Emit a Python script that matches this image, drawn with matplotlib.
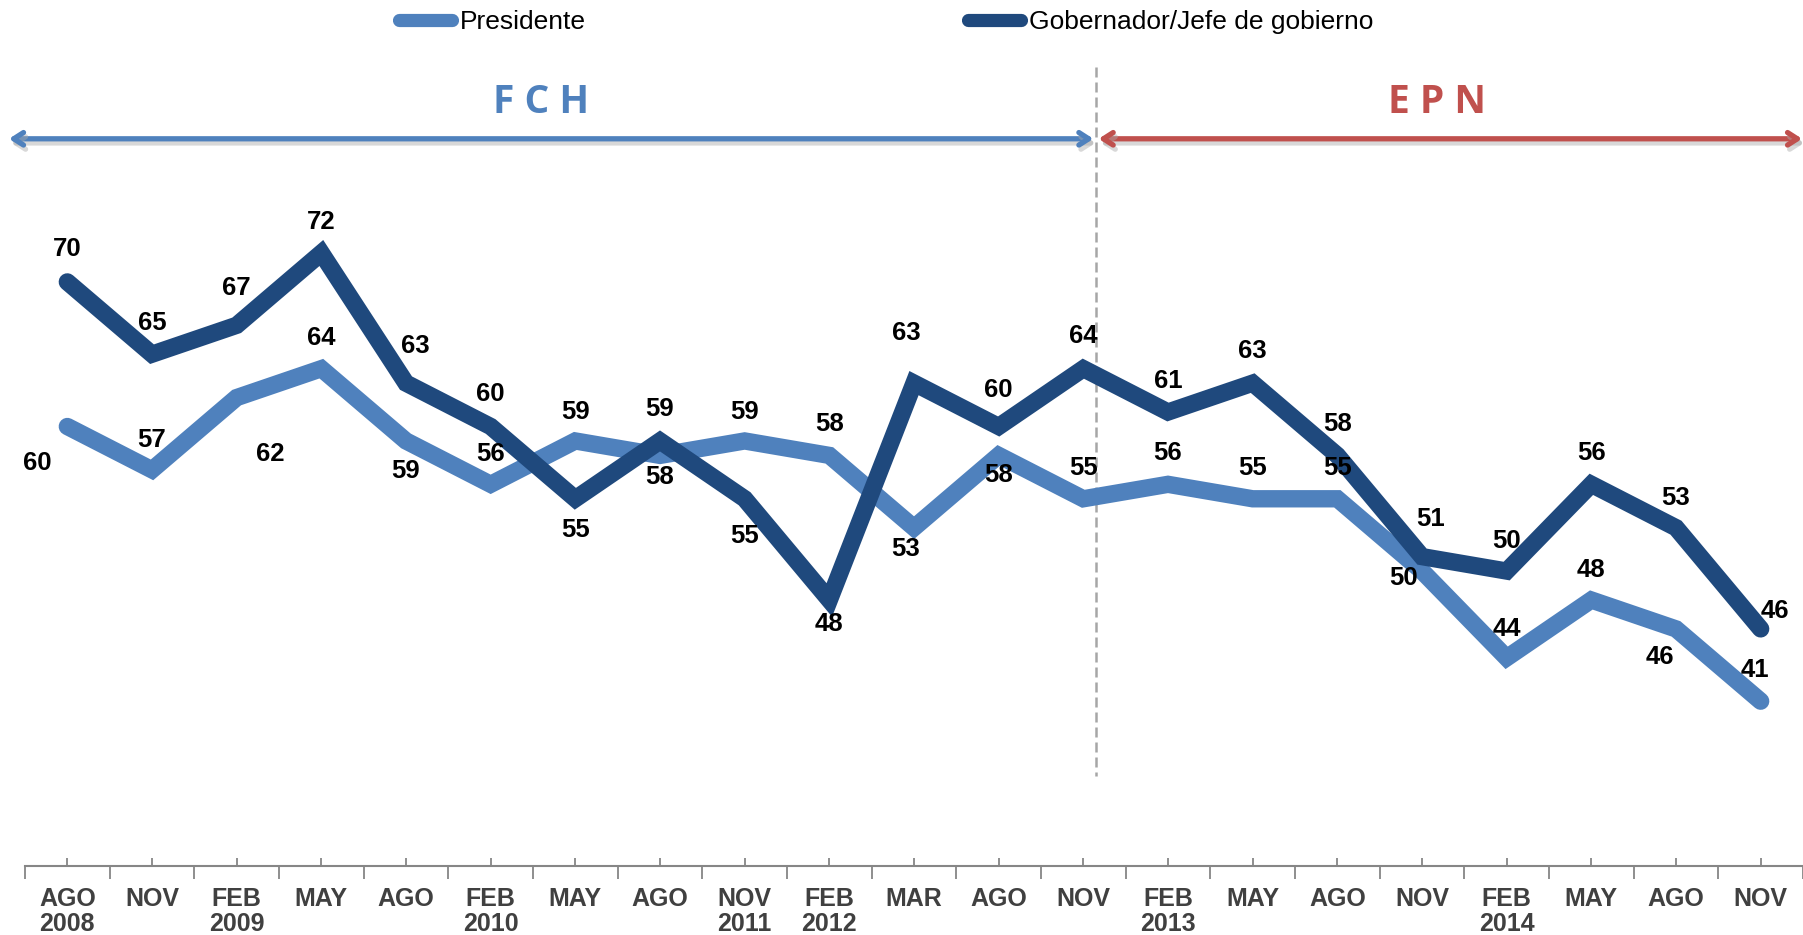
import matplotlib
matplotlib.use("Agg")
import matplotlib.pyplot as plt
import matplotlib.patheffects as pe
from matplotlib.lines import Line2D

months = ["AGO\n2008", "NOV", "FEB\n2009", "MAY", "AGO", "FEB\n2010", "MAY", "AGO",
          "NOV\n2011", "FEB\n2012", "MAR", "AGO", "NOV", "FEB\n2013", "MAY", "AGO",
          "NOV", "FEB\n2014", "MAY", "AGO", "NOV"]
presidente = [60, 57, 62, 64, 59, 56, 59, 58, 59, 58, 53, 58, 55, 56, 55, 55, 50, 44, 48, 46, 41]
gobernador = [70, 65, 67, 72, 63, 60, 55, 59, 55, 48, 63, 60, 64, 61, 63, 58, 51, 50, 56, 53, 46]

# label offsets (pixels) relative to each point
pres_off = [(-30, -37), (0, 30), (34, -56), (0, 31), (0, -30), (0, 30), (0, 29), (0, -22),
            (0, 29), (0, 31), (-8, -21), (0, -20), (0, 31), (0, 31), (0, 31), (0, 31),
            (-18, -7), (0, 29), (0, 30), (-16, -28), (-6, 31)]
gob_off = [(0, 33), (0, 31), (0, 37), (0, 31), (9, 37), (0, 32), (0, -31), (0, 32),
           (0, -37), (0, -24), (-8, 50), (0, 36), (0, 33), (0, 31), (0, 32), (0, 31),
           (9, 38), (0, 30), (0, 31), (0, 30), (14, 18)]

C_PRES = "#4F81BD"
C_GOB = "#1F497D"
C_RED = "#C0504D"

W, H = 1803, 935
fig = plt.figure(figsize=(W / 100, H / 100), dpi=100)
ax = fig.add_axes([25 / W, 69 / H, 1778 / W, 866 / H])

x = list(range(len(months)))
ax.plot(x, presidente, color=C_PRES, lw=12.5, solid_capstyle="round", solid_joinstyle="miter", zorder=3)
ax.plot(x, gobernador, color=C_GOB, lw=12.5, solid_capstyle="round", solid_joinstyle="miter", zorder=4)

lab_font = dict(family=["Liberation Sans"], weight="bold", size=18.5)
for i, v in enumerate(presidente):
    dx, dy = pres_off[i]
    ax.annotate(str(v), (i, v), xytext=(dx, dy), textcoords="offset pixels",
                ha="center", va="center", color="black", zorder=6, **lab_font)
for i, v in enumerate(gobernador):
    dx, dy = gob_off[i]
    ax.annotate(str(v), (i, v), xytext=(dx, dy), textcoords="offset pixels",
                ha="center", va="center", color="black", zorder=6, **lab_font)

ax.set_xlim(-0.5, 20.5)
ax.set_ylim(29.6, 89.5)

for s in ["top", "right", "left"]:
    ax.spines[s].set_visible(False)
ax.spines["bottom"].set_color("#868686")
ax.spines["bottom"].set_linewidth(1.5)
ax.set_yticks([])

ax.set_xticks([i - 0.5 for i in range(22)])
ax.set_xticklabels([])
ax.tick_params(axis="x", which="major", direction="out", length=9, width=1.3, color="#868686")
ax.set_xticks(x, months, minor=True)
ax.tick_params(axis="x", which="minor", direction="in", length=6, width=1.3, color="#868686",
               pad=15, labelcolor="#404040")
for t in ax.get_xticklabels(minor=True):
    t.set_fontfamily(["Liberation Sans"])
    t.set_fontweight("bold")
    t.set_fontsize(18)
    t.set_linespacing(1.05)

# divider
ax.plot([12.15, 12.15], [84.9, 35.8], color="#A6A6A6", lw=1.8, ls=(0, (4, 2)), zorder=2,
        clip_on=False)

# period arrows
shadow = [pe.SimpleLineShadow(offset=(1.5, -3), shadow_color="#AAAAAA", alpha=0.45), pe.Normal()]
ax.annotate("", xy=(-0.69, 79.9), xytext=(12.12, 79.9),
            arrowprops=dict(arrowstyle="<->,head_length=0.7,head_width=0.45", lw=3.8,
                            color=C_PRES, shrinkA=0, shrinkB=0, capstyle="round",
                            joinstyle="round", path_effects=shadow),
            annotation_clip=False)
ax.annotate("", xy=(12.18, 79.9), xytext=(20.49, 79.9),
            arrowprops=dict(arrowstyle="<->,head_length=0.7,head_width=0.45", lw=3.8,
                            color=C_RED, shrinkA=0, shrinkB=0, capstyle="round",
                            joinstyle="round", path_effects=shadow),
            annotation_clip=False)
ax.text(5.6, 82.4, "F C H", color=C_PRES, fontsize=28, fontweight="bold",
        family=["Open Sans", "DejaVu Sans"], ha="center", va="center")
ax.text(16.18, 82.4, "E P N", color=C_RED, fontsize=28, fontweight="bold",
        family=["Open Sans", "DejaVu Sans"], ha="center", va="center")

handles = [Line2D([], [], color=C_PRES, lw=9.5, solid_capstyle="round"),
           Line2D([], [], color=C_GOB, lw=9.5, solid_capstyle="round")]
fig.legend(handles, ["Presidente", "Gobernador/Jefe de gobierno"], loc="center",
           bbox_to_anchor=(886 / W, 1 - 22 / H), ncol=2, frameon=False,
           prop=dict(family=["Liberation Sans"], size=19),
           handlelength=2.0, handletextpad=0.3, columnspacing=14.5, borderpad=0)

fig.savefig("out.png", dpi=100)
